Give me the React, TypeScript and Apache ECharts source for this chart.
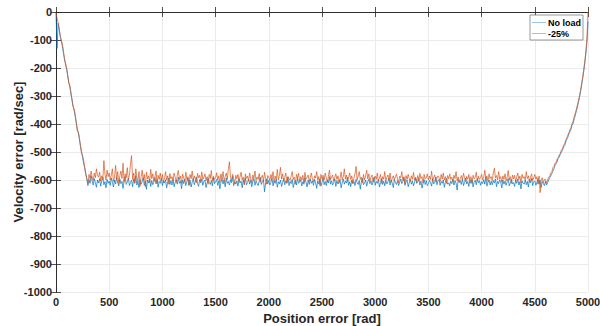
import React, { useEffect, useRef } from "react";
import * as echarts from "echarts";

// Sampling grid of position error [rad]: one value every 10 rad from 0 to 5000
const positionStep = 10;

// Velocity error [rad/sec], series "No load" (rows of 10 samples: 0-90, 100-190, ...)
const noLoadVelocity = [
  -5, -130, -40, -62, -85, -105, -122, -148, -165, -190,
  -205, -228, -250, -268, -292, -310, -335, -350, -372, -392,
  -418, -432, -455, -478, -498, -520, -540, -555, -575, -598,
  -620, -598, -612, -585, -604, -618, -595, -610, -626, -600,
  -611, -595, -622, -603, -590, -617, -606, -628, -598, -612,
  -604, -619, -593, -608, -625, -600, -614, -589, -610, -621,
  -597, -613, -605, -630, -602, -588, -616, -607, -594, -620,
  -609, -601, -624, -596, -612, -585, -618, -603, -627, -599,
  -615, -606, -592, -619, -604, -633, -600, -611, -596, -623,
  -602, -617, -608, -591, -614, -598, -626, -605, -612, -594,
  -620, -603, -611, -599, -628, -607, -593, -616, -602, -618,
  -596, -624, -609, -601, -615, -590, -612, -604, -631, -600,
  -613, -597, -620, -606, -593, -618, -601, -625, -608, -595,
  -617, -604, -589, -612, -623, -599, -610, -596, -619, -605,
  -600, -627, -611, -594, -608, -616, -602, -621, -590, -613,
  -606, -598, -619, -603, -632, -609, -595, -614, -601, -624,
  -593, -612, -605, -618, -599, -610, -587, -620, -607, -615,
  -603, -622, -596, -611, -604, -628, -600, -613, -592, -617,
  -609, -597, -615, -601, -624, -606, -594, -619, -603, -612,
  -620, -605, -591, -616, -607, -599, -642, -610, -596, -614,
  -601, -618, -608, -593, -621, -604, -612, -597, -626, -606,
  -614, -600, -623, -609, -595, -617, -603, -611, -589, -620,
  -605, -613, -598, -627, -610, -602, -618, -594, -612, -607,
  -599, -621, -606, -615, -592, -609, -625, -601, -616, -597,
  -612, -604, -619, -598, -610, -630, -603, -614, -596, -622,
  -608, -593, -617, -605, -620, -600, -611, -588, -615, -603,
  -618, -609, -596, -623, -602, -614, -607, -599, -628, -610,
  -597, -615, -604, -611, -591, -619, -606, -624, -600, -613,
  -605, -620, -598, -609, -616, -602, -633, -607, -594, -617,
  -611, -600, -622, -606, -597, -613, -603, -618, -608, -590,
  -619, -605, -612, -599, -625, -610, -595, -616, -604, -621,
  -602, -614, -607, -593, -618, -600, -611, -627, -598, -609,
  -616, -603, -620, -608, -596, -613, -605, -592, -619, -606,
  -600, -624, -610, -597, -615, -603, -621, -608, -594, -612,
  -607, -595, -618, -604, -629, -611, -599, -616, -602, -620,
  -613, -601, -609, -622, -596, -614, -606, -589, -617, -603,
  -598, -619, -605, -612, -600, -626, -608, -595, -615, -610,
  -621, -604, -613, -597, -618, -602, -611, -636, -599, -607,
  -603, -616, -596, -620, -609, -593, -614, -605, -623, -600,
  -612, -598, -625, -607, -601, -617, -594, -610, -603, -619,
  -606, -613, -599, -615, -590, -622, -608, -600, -618, -604,
  -617, -602, -611, -596, -624, -605, -613, -599, -609, -628,
  -600, -615, -604, -619, -607, -595, -621, -610, -598, -614,
  -609, -623, -601, -612, -596, -618, -606, -632, -603, -611,
  -615, -600, -617, -605, -625, -598, -610, -594, -620, -607,
  -603, -619, -608, -596, -614, -601, -627, -606, -612, -620,
  -605, -618, -610, -600, -592, -585, -578, -568, -560, -548,
  -542, -535, -522, -518, -508, -500, -495, -482, -478, -465,
  -455, -448, -435, -428, -420, -405, -398, -382, -370, -355,
  -340, -322, -305, -285, -262, -238, -212, -182, -150, -108,
  -35,
];

// Velocity error [rad/sec], series "-25%" (rows of 10 samples: 0-90, 100-190, ...)
const loadVelocity = [
  -2, -22, -38, -60, -88, -100, -115, -138, -172, -182,
  -198, -225, -255, -262, -285, -315, -338, -345, -365, -395,
  -425, -428, -448, -480, -505, -512, -530, -560, -582, -596,
  -612, -580, -595, -568, -590, -602, -575, -592, -560, -585,
  -590, -572, -603, -585, -598, -531, -578, -600, -565, -588,
  -575, -600, -582, -560, -605, -590, -548, -598, -570, -612,
  -585, -568, -595, -540, -608, -578, -592, -556, -600, -583,
  -545, -513, -598, -575, -610, -560, -590, -602, -570, -622,
  -588, -565, -600, -580, -625, -572, -596, -585, -610, -562,
  -595, -578, -605, -590, -568, -612, -583, -598, -575, -603,
  -580, -610, -592, -570, -600, -585, -615, -577, -596, -588,
  -602, -575, -590, -608, -582, -566, -598, -586, -612, -579,
  -593, -605, -572, -598, -588, -620, -580, -595, -568, -600,
  -585, -597, -610, -576, -592, -583, -605, -571, -598, -590,
  -578, -602, -588, -615, -580, -595, -566, -603, -587, -598,
  -592, -574, -600, -585, -610, -578, -596, -570, -605, -588,
  -575, -598, -560, -535, -590, -602, -580, -595, -612, -583,
  -596, -580, -605, -588, -572, -600, -590, -618, -578, -594,
  -586, -603, -575, -597, -610, -582, -593, -568, -601, -589,
  -598, -577, -608, -590, -583, -605, -572, -596, -615, -584,
  -590, -602, -580, -595, -570, -608, -586, -598, -562, -600,
  -583, -555, -597, -578, -605, -590, -575, -612, -588, -596,
  -601, -585, -570, -598, -590, -615, -580, -594, -576, -606,
  -588, -600, -583, -610, -573, -596, -590, -582, -605, -592,
  -575, -598, -606, -585, -593, -570, -600, -588, -620, -580,
  -596, -583, -600, -575, -592, -608, -586, -565, -598, -590,
  -582, -604, -590, -578, -598, -585, -612, -594, -571, -600,
  -588, -560, -597, -582, -605, -590, -575, -598, -585, -612,
  -594, -578, -552, -600, -586, -570, -598, -590, -610, -580,
  -600, -585, -565, -596, -578, -603, -590, -582, -608, -594,
  -586, -598, -575, -605, -592, -580, -612, -588, -597, -570,
  -602, -590, -582, -598, -575, -608, -594, -585, -600, -588,
  -579, -596, -610, -586, -592, -570, -601, -588, -615, -584,
  -598, -580, -594, -605, -585, -597, -573, -600, -590, -608,
  -584, -602, -576, -595, -588, -611, -580, -597, -592, -578,
  -600, -586, -598, -568, -604, -590, -582, -607, -594, -585,
  -592, -605, -580, -597, -575, -600, -588, -612, -584, -596,
  -578, -598, -590, -606, -583, -595, -570, -602, -589, -610,
  -595, -584, -600, -576, -592, -605, -587, -598, -580, -603,
  -588, -612, -583, -596, -590, -572, -604, -586, -598, -592,
  -580, -600, -590, -565, -598, -585, -606, -578, -595, -588,
  -602, -575, -558, -592, -584, -600, -570, -596, -588, -608,
  -585, -598, -578, -603, -590, -566, -600, -588, -612, -582,
  -596, -583, -605, -590, -575, -598, -586, -610, -580, -594,
  -588, -600, -570, -595, -585, -608, -590, -578, -602, -592,
  -580, -597, -588, -615, -586, -645, -600, -592, -610, -598,
  -598, -612, -600, -590, -588, -575, -570, -556, -552, -540,
  -538, -525, -520, -510, -505, -492, -488, -476, -470, -458,
  -450, -440, -432, -420, -412, -398, -390, -375, -362, -348,
  -332, -318, -298, -280, -255, -232, -205, -175, -140, -95,
  0,
];

const seriesNames = ["No load", "-25%"];
const seriesColors = ["#0072BD", "#D95319"];
const legendLineColors = ["#9cc8e6", "#eeaa8c"];

const toPairs = (ys: number[]) => ys.map((y, i) => [i * positionStep, y]);

const FONT = "'Liberation Sans', Arial, Helvetica, sans-serif";
const AX = "#262626";

export default function App() {
  const ref = useRef<HTMLDivElement>(null);
  useEffect(() => {
    if (!ref.current) return;
    const chart = echarts.init(ref.current, null, { renderer: "svg" });
    const labelStyle = {
      color: AX,
      fontWeight: "bold" as const,
      fontSize: 11,
      fontFamily: FONT,
      formatter: (v: number) => String(v),
    };
    const nameStyle = { color: AX, fontWeight: "bold" as const, fontSize: 13, fontFamily: FONT };
    const boxAxis = {
      axisLine: { show: true, lineStyle: { color: AX, width: 0.8 } },
      axisTick: { show: true, inside: true, length: 5, lineStyle: { color: AX, width: 0.8 } },
      axisLabel: { show: false },
      splitLine: { show: false },
    };
    chart.setOption({
      animation: false,
      backgroundColor: "#ffffff",
      grid: { left: 56, right: 12, top: 12, bottom: 34, containLabel: false, outerBoundsMode: "none" },
      legend: {
        data: seriesNames.map((name, i) => ({ name, itemStyle: { color: legendLineColors[i] } })),
        orient: "vertical",
        right: 17,
        top: 15,
        backgroundColor: "#ffffff",
        borderColor: "#555555",
        borderWidth: 0.6,
        borderRadius: 0,
        padding: [3, 2, 2, 2],
        itemGap: 2,
        itemWidth: 14,
        itemHeight: 1,
        icon: "rect",
        textStyle: { color: "#000", fontWeight: "bold", fontSize: 9, fontFamily: FONT, padding: [0, 0, 0, -3] },
      },
      xAxis: [
        {
          type: "value",
          min: 0,
          max: 5000,
          interval: 500,
          name: "Position error [rad]",
          nameLocation: "middle",
          nameGap: 20,
          nameMoveOverlap: false,
          nameTextStyle: nameStyle,
          axisLine: { show: true, lineStyle: { color: AX, width: 0.8 } },
          axisTick: { show: true, inside: true, length: 5, lineStyle: { color: AX, width: 0.8 } },
          axisLabel: { ...labelStyle, margin: 4 },
          splitLine: { show: true, lineStyle: { color: "#ebebeb", width: 1 } },
        },
        { type: "value", position: "top", min: 0, max: 5000, interval: 500, ...boxAxis },
      ],
      yAxis: [
        {
          type: "value",
          min: -1000,
          max: 0,
          interval: 100,
          name: "Velocity error [rad/sec]",
          nameLocation: "middle",
          nameGap: 31,
          nameMoveOverlap: false,
          nameRotate: 90,
          nameTextStyle: nameStyle,
          axisLine: { show: true, lineStyle: { color: AX, width: 0.8 } },
          axisTick: { show: true, inside: true, length: 5, lineStyle: { color: AX, width: 0.8 } },
          axisLabel: { ...labelStyle, margin: 4 },
          splitLine: { show: true, lineStyle: { color: "#ebebeb", width: 1 } },
        },
        { type: "value", position: "right", min: -1000, max: 0, interval: 100, ...boxAxis },
      ],
      series: [
        {
          name: seriesNames[0],
          type: "line",
          data: toPairs(noLoadVelocity),
          showSymbol: false,
          symbol: "none",
          color: seriesColors[0],
          lineStyle: { color: seriesColors[0], width: 0.7 },
        },
        {
          name: seriesNames[1],
          type: "line",
          data: toPairs(loadVelocity),
          showSymbol: false,
          symbol: "none",
          color: seriesColors[1],
          lineStyle: { color: seriesColors[1], width: 0.7 },
        },
      ],
    });
    return () => chart.dispose();
  }, []);
  return <div ref={ref} style={{ width: 600, height: 326, position: "absolute", left: 0, top: 0 }} />;
}
